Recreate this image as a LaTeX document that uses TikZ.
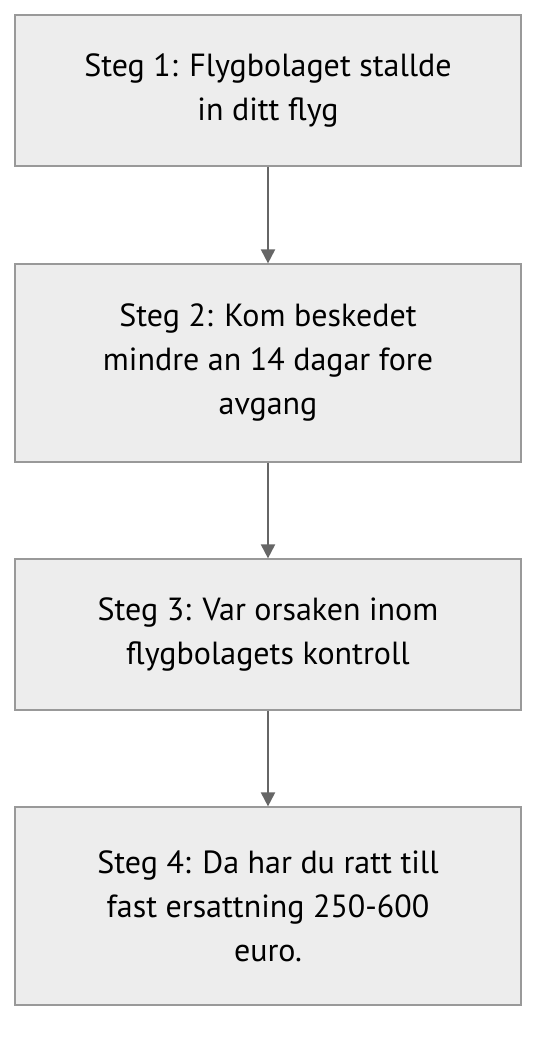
\documentclass[tikz,border=0pt]{standalone}
\usepackage{fontspec}
\setmainfont{PT Sans}
\usetikzlibrary{arrows.meta}
\colorlet{stegfill}{black!7}
\colorlet{stegline}{black!40}
\colorlet{pilgrey}{black!60}

\begin{document}
\begin{tikzpicture}[x=0.5pt,y=-0.5pt,
    steg/.style={draw=stegline, fill=stegfill, line width=0.6pt, minimum width=253pt,
        align=center, font=\fontsize{16}{22}\selectfont, inner sep=0pt},
    pil/.style={draw=pilgrey, line width=1pt, -{Triangle[width=7pt,length=7pt]}}]
        \useasboundingbox (0,0) rectangle (552,1052);
        \node[steg, minimum height=75.5pt] (s1) at (268,90.5) {Steg 1: Flygbolaget stallde\\in ditt flyg};
        \node[steg, minimum height=99pt] (s2) at (268,363) {Steg 2: Kom beskedet\\mindre an 14 dagar fore\\avgang};
        \node[steg, minimum height=75.5pt] (s3) at (268,634.5) {Steg 3: Var orsaken inom\\flygbolagets kontroll};
        \node[steg, minimum height=99pt] (s4) at (268,906) {Steg 4: Da har du ratt till\\fast ersattning 250-600\\euro.};
        \foreach \a/\b in {s1/s2,s2/s3,s3/s4}{
            \draw[pil] (\a.south) -- (\b.north);
        }
    \end{tikzpicture}
\end{document}
